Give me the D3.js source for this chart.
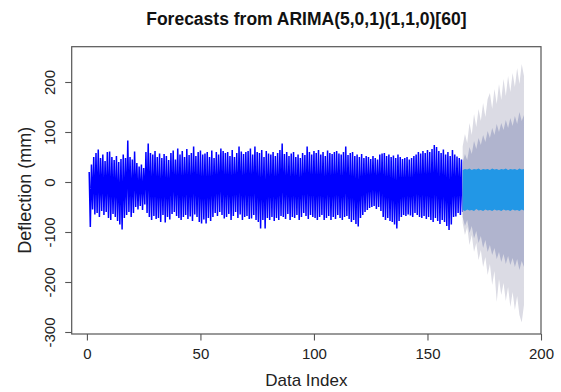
<!DOCTYPE html>
<html>
<head>
<meta charset="utf-8">
<script src="https://cdn.jsdelivr.net/npm/d3@7"></script>
<style>
  body { margin: 0; background: #fff; }
  svg { font-family: Arial, "Liberation Sans", sans-serif; }
</style>
</head>
<body>
<svg width="561" height="392"></svg>
<script>
// observed series, peak and trough read for each unit of the index (1..165)
const obsHigh = [
  20, 35, 50, 58, 65, 48, 55, 42, 60, 61,
  50, 44, 52, 40, 46, 55, 48, 83, 50, 45,
  61, 38, 31, 35, 28, 60, 77, 58, 55, 62,
  50, 57, 48, 56, 52, 44, 58, 63, 45, 67,
  55, 62, 50, 66, 54, 58, 71, 52, 60, 63,
  55, 57, 60, 50, 63, 48, 60, 55, 67, 62,
  58, 60, 52, 64, 50, 58, 71, 61, 56, 60,
  62, 67, 55, 71, 60, 58, 64, 50, 62, 57,
  55, 60, 52, 58, 64, 77, 56, 60, 52, 57,
  60, 50, 55, 48, 58, 54, 71, 60, 55, 62,
  58, 64, 55, 60, 52, 63, 58, 56, 60, 62,
  57, 55, 60, 71, 54, 58, 60, 52, 55, 50,
  56, 48, 52, 50, 46, 52, 48, 45, 55, 57,
  58, 52, 55, 50, 53, 48, 55, 50, 46, 48,
  50, 45, 48, 52, 55, 60, 57, 62, 58, 64,
  60, 66, 74, 70, 62, 58, 65, 55, 60, 52,
  64, 55, 51, 48, 45
];
const obsLow = [
  -90, -55, -65, -62, -70, -58, -66, -60, -72, -76,
  -64, -70, -78, -85, -95, -72, -66, -60, -70, -62,
  -50, -55, -48, -56, -45, -62, -70, -76, -68, -74,
  -72, -80, -66, -81, -70, -75, -64, -60, -68, -72,
  -76, -70, -66, -74, -69, -78, -65, -70, -80, -83,
  -75, -83, -72, -78, -70, -62, -68, -60, -66, -73,
  -70, -64, -76, -68, -60, -72, -65, -76, -70, -68,
  -74, -73, -66, -76, -80, -93, -76, -93, -72, -76,
  -70, -78, -72, -76, -68, -70, -74, -64, -76, -70,
  -72, -66, -76, -70, -62, -68, -74, -66, -70, -72,
  -76, -70, -66, -76, -72, -68, -76, -70, -74, -66,
  -72, -76, -70, -68, -74, -80, -76, -84, -89, -72,
  -66, -60, -56, -52, -50, -48, -54, -50, -58, -70,
  -76, -72, -78, -80, -85, -93, -78, -70, -66, -68,
  -65, -67, -70, -62, -66, -70, -72, -68, -74, -70,
  -76, -80, -72, -78, -84, -76, -80, -88, -96, -85,
  -70, -69, -62, -66, -60
];

// forecast, one value per unit from fcStart
const fcStart = 165.5;
const fcHigh = [24, 26, 25, 27, 24, 26, 25, 27, 24, 26, 25, 26, 24, 27,
                25, 26, 24, 26, 25, 27, 24, 26, 25, 26, 24, 27, 25, 26];
const fcLow = [-56, -58, -55, -57, -56, -58, -54, -57, -56, -58, -55, -57, -56, -58,
               -55, -57, -56, -58, -55, -57, -56, -58, -55, -57, -56, -58, -55, -57];
const upper80 = [38, 56, 44, 70, 56, 82, 66, 88, 74, 94, 80, 102, 88, 108,
                 94, 116, 100, 118, 104, 124, 108, 128, 112, 132, 116, 140, 122, 134];
const lower80 = [-70, -88, -76, -102, -88, -113, -98, -122, -108, -132, -116, -140, -126, -146,
                 -132, -154, -140, -160, -144, -164, -148, -166, -152, -170, -154, -176, -158, -170];
const upper95 = [71, 96, 78, 118, 94, 136, 110, 146, 122, 158, 130, 166, 178, 146,
                 186, 156, 196, 164, 206, 172, 212, 180, 218, 190, 228, 196, 236, 212];
const lower95 = [-82, -106, -90, -126, -106, -140, -122, -156, -136, -170, -150, -186, -164, -206,
                 -178, -240, -194, -226, -202, -238, -210, -250, -220, -256, -228, -266, -281, -246];

const xTicks = [0, 50, 100, 150, 200];
const yTicks = [-300, -200, -100, 0, 100, 200];
const xLimits = [-6.7, 200];
const yLimits = [-304, 270.6];

const box = {l: 71.7, r: 541, t: 46.7, b: 334};
const svg = d3.select('svg');

const scaleX = d3.scaleLinear().domain(xLimits).range([box.l, box.r]);
const scaleY = d3.scaleLinear().domain(yLimits).range([box.b, box.t]);

// observed series as a dense line: peak then trough for each unit
let obs = [];
obsHigh.forEach((h, i) => {
    obs.push([i + 1, h]);
    obs.push([i + 1.5, obsLow[i]]);
});

const fc = upper95.map((u, k) => ({
    x: fcStart + k,
    u95: u, l95: lower95[k],
    u80: upper80[k], l80: lower80[k],
    hi: fcHigh[k], lo: fcLow[k]
}));

const band = (lo, hi) => d3.area()
    .x(d => scaleX(d.x))
    .y0(d => scaleY(d[lo]))
    .y1(d => scaleY(d[hi]));

const plotG = svg.append('g');

plotG.append('path')
    .datum(obs)
    .attr('fill', 'none')
    .attr('stroke', '#0000ff')
    .attr('stroke-width', 1.5)
    .attr('stroke-linejoin', 'miter')
    .attr('d', d3.line().x(d => scaleX(d[0])).y(d => scaleY(d[1])));

plotG.append('path').datum(fc).attr('fill', '#dbdbe4').attr('d', band('l95', 'u95'));
plotG.append('path').datum(fc).attr('fill', '#b0b4ce').attr('d', band('l80', 'u80'));
plotG.append('path').datum(fc).attr('fill', '#2297e6').attr('d', band('lo', 'hi'));

// box
svg.append('rect')
    .attr('x', box.l).attr('y', box.t)
    .attr('width', box.r - box.l).attr('height', box.b - box.t)
    .attr('fill', 'none')
    .attr('stroke', '#555')
    .attr('stroke-width', 1.2);

// axes
let axisX = d3.axisBottom(scaleX).tickValues(xTicks).tickSize(6.5).tickPadding(8)
    .tickFormat(d => String(d));
let axisXG = svg.append('g')
    .attr('transform', `translate(0, ${box.b})`)
    .call(axisX);

let axisY = d3.axisLeft(scaleY).tickValues(yTicks).tickSize(6.5).tickPadding(0)
    .tickFormat(d => String(d));
let axisYG = svg.append('g')
    .attr('transform', `translate(${box.l}, 0)`)
    .call(axisY);

[axisXG, axisYG].forEach(g => {
    g.select('.domain').remove();
    g.selectAll('line').attr('stroke', '#555').attr('stroke-width', 1.1);
    g.selectAll('text').attr('fill', '#222').style('font-size', '15px');
});

axisYG.selectAll('text')
    .attr('x', null).attr('dy', null)
    .style('text-anchor', 'middle')
    .attr('transform', 'translate(-16.5, 0) rotate(-90)');

// titles
svg.append('text')
    .attr('x', (box.l + box.r) / 2).attr('y', 25)
    .attr('text-anchor', 'middle')
    .style('font-size', '17.5px').style('font-weight', 'bold')
    .attr('fill', '#111')
    .text('Forecasts from ARIMA(5,0,1)(1,1,0)[60]');

svg.append('text')
    .attr('x', (box.l + box.r) / 2).attr('y', 386)
    .attr('text-anchor', 'middle')
    .style('font-size', '17px')
    .attr('fill', '#222')
    .text('Data Index');

svg.append('text')
    .attr('transform', `translate(31, ${(box.t + box.b) / 2}) rotate(-90)`)
    .attr('text-anchor', 'middle')
    .style('font-size', '18px')
    .attr('fill', '#222')
    .text('Deflection (mm)');
</script>
</body>
</html>
